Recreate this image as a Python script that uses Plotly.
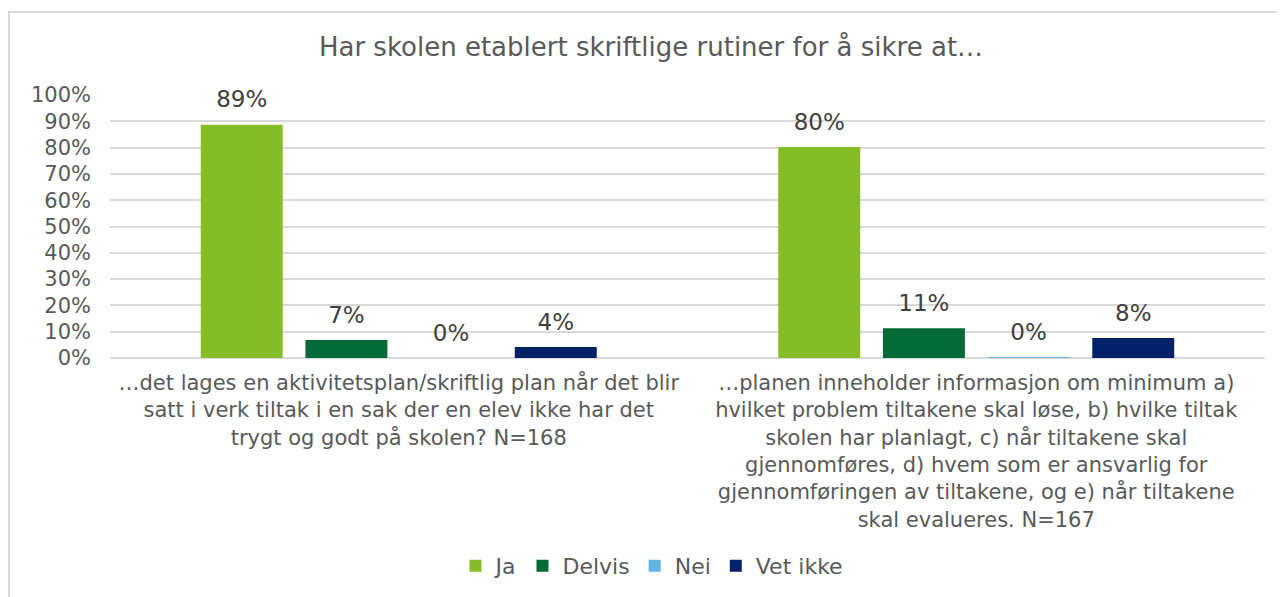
import plotly.graph_objects as go

categories = [
    "…det lages en aktivitetsplan/skriftlig plan når det blir<br>satt i verk tiltak i en sak der en elev ikke har det<br>trygt og godt på skolen? N=168",
    "…planen inneholder informasjon om minimum a)<br>hvilket problem tiltakene skal løse, b) hvilke tiltak<br>skolen har planlagt, c) når tiltakene skal<br>gjennomføres, d) hvem som er ansvarlig for<br>gjennomføringen av tiltakene, og e) når tiltakene<br>skal evalueres. N=167",
]
series_names = ["Ja", "Delvis", "Nei", "Vet ikke"]
ja = [88.7, 80.2]
delvis = [6.8, 11.3]
nei = [0.0, 0.3]
vet_ikke = [4.2, 7.6]
colors = ["#86BC25", "#046A38", "#62B5E5", "#012169"]
y_ticks = [0, 10, 20, 30, 40, 50, 60, 70, 80, 90, 100]
y_tick_labels = [f"{v}%" for v in y_ticks]

FONT = "DejaVu Sans"
TXT = "#595959"
OFF = 8  # page body margin
PW, PH = 1285, 597
W, H = PW - OFF, PH - OFF
# plot area in page pixels
PX0, PX1, PY0, PY1 = 110, 1265, 95, 358
ML, MR, MT, MB = PX0 - OFF, PW - PX1, PY0 - OFF, PH - PY1

pw = PX1 - PX0
ph = PY1 - PY0


def px(xp):
    return (xp - PX0) / pw


def py(yp):
    return (PY1 - yp) / ph


fig = go.Figure()
values = [ja, delvis, nei, vet_ikke]
for name, vals, col in zip(series_names, values, colors):
    fig.add_trace(go.Bar(
        x=categories, y=vals, name=name, marker_color=col,
        marker_line_width=0, offsetgroup=name, hoverinfo="skip",
    ))
for name, vals, col in zip(series_names, values, colors):
    fig.add_trace(go.Scatter(
        x=categories, y=vals, name=name, mode="markers+text",
        marker=dict(size=17, opacity=0, color=col),
        text=[f"{round(v)}%" for v in vals], textposition="top center",
        textfont=dict(family=FONT, size=23, color="#404040"),
        offsetgroup=name, orientation="v", showlegend=False,
        cliponaxis=False, hoverinfo="skip",
    ))

fig.add_shape(type="rect", xref="paper", yref="paper",
              x0=px(9), x1=px(PW + 10), y0=py(PH + 10), y1=py(12),
              line=dict(color="#d9d9d9", width=2), fillcolor="rgba(0,0,0,0)", layer="below")

fig.update_layout(
    width=W, height=H,
    margin=dict(l=ML, r=MR, t=MT, b=MB, autoexpand=False),
    paper_bgcolor="white", plot_bgcolor="white",
    barmode="group", bargap=0.275, bargroupgap=0.217,
    scattermode="group", scattergap=0.275,
    font=dict(family=FONT, color=TXT, size=20),
    title=dict(text="Har skolen etablert skriftlige rutiner for å sikre at…",
               x=(651 - OFF) / W, xanchor="center", y=1 - (47 - OFF) / H, yanchor="middle",
               font=dict(family=FONT, size=26, color=TXT)),
    legend=dict(orientation="h", x=px(652), xanchor="center",
                y=py(566), yanchor="middle",
                font=dict(family=FONT, size=22, color=TXT),
                itemwidth=30, traceorder="normal"),
    xaxis=dict(showgrid=False, showline=False, ticks="", tickangle=0,
               ticklabelstandoff=10,
               tickfont=dict(family=FONT, size=21, color=TXT)),
    yaxis=dict(range=[0, 100], tickvals=y_ticks, ticktext=y_tick_labels,
               showgrid=True, gridcolor="#d9d9d9", gridwidth=1.5,
               zeroline=True, zerolinecolor="#d9d9d9", zerolinewidth=1.5,
               showline=False, ticks="", ticklabelstandoff=18,
               tickfont=dict(family=FONT, size=21, color=TXT)),
    showlegend=True,
)
fig.write_html("out.html")
